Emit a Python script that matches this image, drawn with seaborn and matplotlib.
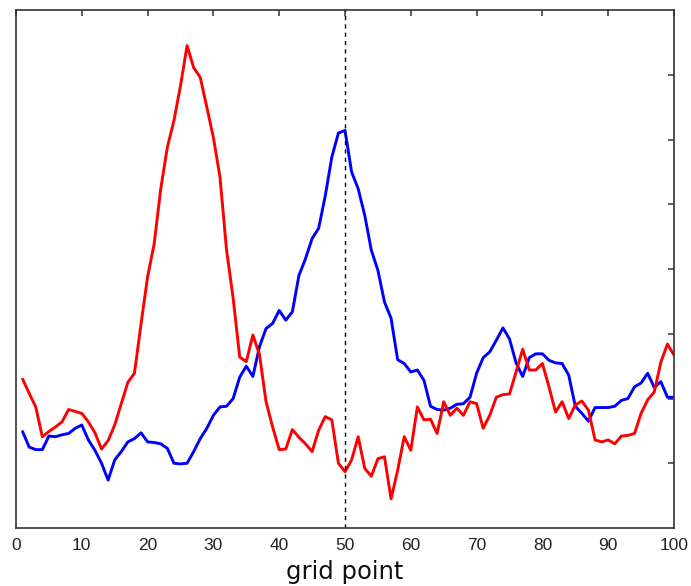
import numpy as np
import pandas as pd
import seaborn as sns
import matplotlib
matplotlib.use("Agg")
import matplotlib.pyplot as plt

# grid points 1..100
grid = list(range(1, 101))

red_vals = [2.30, 2.08, 1.87, 1.41, 1.49, 1.56, 1.64, 1.83, 1.80, 1.77,
            1.64, 1.47, 1.22, 1.35, 1.59, 1.92, 2.25, 2.39, 3.15, 3.88,
            4.39, 5.24, 5.88, 6.29, 6.83, 7.45, 7.11, 6.96, 6.50, 6.03,
            5.42, 4.29, 3.55, 2.64, 2.57, 2.98, 2.68, 1.95, 1.56, 1.21,
            1.22, 1.52, 1.40, 1.30, 1.18, 1.51, 1.72, 1.67, 1.00, 0.87,
            1.05, 1.41, 0.92, 0.80, 1.07, 1.10, 0.45, 0.89, 1.41, 1.20,
            1.87, 1.67, 1.68, 1.46, 1.95, 1.74, 1.85, 1.74, 1.95, 1.92,
            1.54, 1.74, 2.02, 2.06, 2.07, 2.41, 2.76, 2.44, 2.44, 2.54,
            2.18, 1.79, 1.95, 1.69, 1.90, 1.96, 1.82, 1.36, 1.33, 1.36,
            1.30, 1.42, 1.43, 1.46, 1.77, 1.98, 2.10, 2.56, 2.84, 2.67]

blue_vals = [1.49, 1.25, 1.21, 1.21, 1.42, 1.41, 1.44, 1.46, 1.54, 1.59,
             1.36, 1.20, 1.00, 0.74, 1.05, 1.18, 1.33, 1.38, 1.47, 1.33,
             1.32, 1.30, 1.23, 1.00, 0.99, 1.00, 1.18, 1.38, 1.54, 1.74,
             1.87, 1.88, 2.00, 2.33, 2.50, 2.34, 2.80, 3.08, 3.16, 3.36,
             3.21, 3.34, 3.90, 4.16, 4.47, 4.63, 5.13, 5.73, 6.10, 6.14,
             5.50, 5.24, 4.83, 4.29, 3.98, 3.49, 3.24, 2.60, 2.54, 2.41,
             2.44, 2.28, 1.88, 1.83, 1.82, 1.85, 1.91, 1.92, 2.02, 2.39,
             2.63, 2.72, 2.90, 3.09, 2.92, 2.55, 2.34, 2.63, 2.69, 2.69,
             2.59, 2.55, 2.54, 2.36, 1.88, 1.77, 1.65, 1.86, 1.86, 1.86,
             1.88, 1.97, 2.00, 2.18, 2.24, 2.39, 2.17, 2.26, 2.02, 2.02]

x_ticks = list(range(0, 101, 10))
y_ticks = [1, 2, 3, 4, 5, 6, 7]
marker_x = 50

sns.set_style("white")
plt.rcParams['font.family'] = ['Liberation Sans', 'DejaVu Sans']

fig = plt.figure(figsize=(6.91, 5.86), dpi=100)
ax = fig.add_axes([16 / 691, 1 - 528 / 586, 658 / 691, 518 / 586])

df = pd.DataFrame({"grid": grid, "red": red_vals, "blue": blue_vals})
sns.lineplot(data=df, x="grid", y="blue", color="#0000ff", linewidth=2.1, ax=ax)
sns.lineplot(data=df, x="grid", y="red", color="#ff0000", linewidth=2.1, ax=ax)
ax.axvline(marker_x, color="black", linewidth=1.0, linestyle=(0, (3, 3)))

ax.set_xlim(0, 100)
ax.set_ylim(0, 8)
ax.set_xticks(x_ticks)
ax.set_yticks(y_ticks)
ax.set_yticklabels([])
ax.tick_params(direction="in", top=True, right=True, length=4, width=1.1,
               color="#333333", labelsize=12.5, labelcolor="#222222", pad=7)
for s in ax.spines.values():
    s.set_color("#333333")
    s.set_linewidth(1.2)

ax.set_ylabel("")
ax.set_xlabel("grid point", fontsize=17.5, color="#111111", labelpad=5,
              family="DejaVu Sans")

fig.savefig("out.png", dpi=100)
